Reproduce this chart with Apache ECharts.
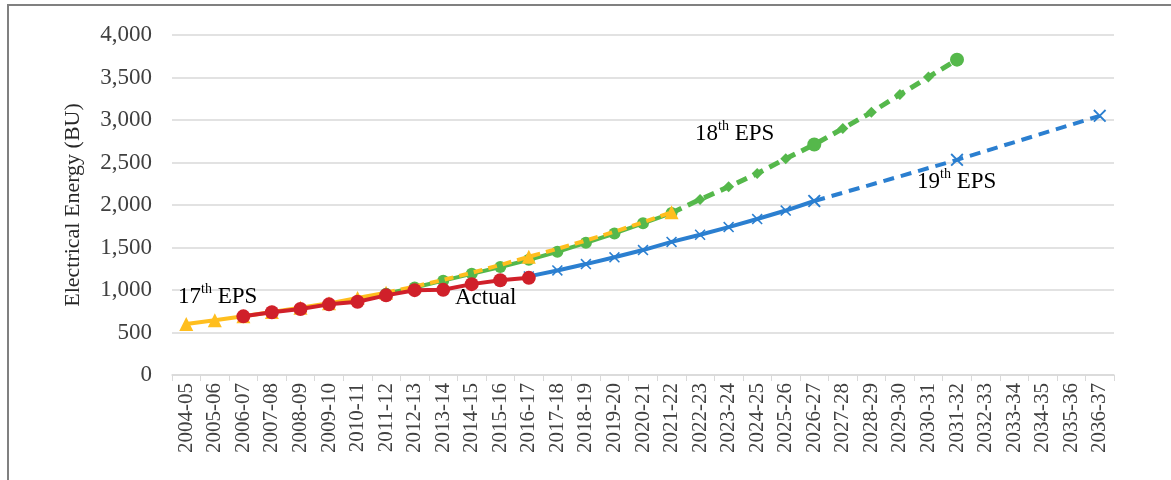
<!DOCTYPE html>
<html>
<head>
<meta charset="utf-8">
<script src="https://cdn.jsdelivr.net/npm/echarts@6/dist/echarts.min.js"></script>
<style>html,body{margin:0;padding:0;background:#fff}#c{width:1171px;height:480px}</style>
</head>
<body>
<div id="c"></div>
<script>
var categories = ['2004-05','2005-06','2006-07','2007-08','2008-09','2009-10','2010-11','2011-12','2012-13','2013-14','2014-15','2015-16','2016-17','2017-18','2018-19','2019-20','2020-21','2021-22','2022-23','2023-24','2024-25','2025-26','2026-27','2027-28','2028-29','2029-30','2030-31','2031-32','2032-33','2033-34','2034-35','2035-36','2036-37'];
var yTicks = [0, 500, 1000, 1500, 2000, 2500, 3000, 3500, 4000];
var _ = null;
var eps17Solid = [600,645,690,742,790,843,905,969,_,_,_,_,_,_,_,_,_,_,_,_,_,_,_,_,_,_,_,_,_,_,_,_,_];
var eps17Dash  = [_,_,_,_,_,_,_,969,1041,1119,1203,1294,1392,1484,1582,1686,1797,1914,_,_,_,_,_,_,_,_,_,_,_,_,_,_,_];
var eps17DashMarkers = ['2016-17','2021-22'];
var eps18Solid = [_,_,_,_,_,_,_,955,1030,1110,1190,1270,1355,1450,1555,1665,1785,1905,_,_,_,_,_,_,_,_,_,_,_,_,_,_,_];
var eps18Dash  = [_,_,_,_,_,_,_,_,_,_,_,_,_,_,_,_,_,1905,2065,2215,2370,2545,2711,2900,3090,3300,3505,3710,_,_,_,_,_];
var eps18BigMarkers = ['2026-27','2031-32'];
var eps19Solid = [_,_,_,_,_,_,_,_,_,_,_,_,1160,1230,1305,1385,1470,1566,1650,1740,1835,1935,2047,_,_,_,_,_,_,_,_,_,_];
var eps19Dash  = [_,_,_,_,_,_,_,_,_,_,_,_,_,_,_,_,_,_,_,_,_,_,2047,_,_,_,_,2531,_,_,_,_,3049];
var actual     = [_,_,690,739,777,831,862,937,998,1002,1069,1114,1143,_,_,_,_,_,_,_,_,_,_,_,_,_,_,_,_,_,_,_,_];

var C_Y = '#FFBE1E', C_R = '#D0202A', C_G = '#55B84B', C_B = '#2B7FD0';
var XPATH = 'path://M1,0L5,4L9,0L10,1L6,5L10,9L9,10L5,6L1,10L0,9L4,5L0,1Z';
var SERIF = 'Liberation Serif';

var chart = echarts.init(document.getElementById('c'));
function dashData(vals, shown, sym, size) {
  return vals.map(function (v, i) {
    if (v === null) return null;
    var show = shown.indexOf(categories[i]) >= 0;
    return {value: v, symbol: show ? sym : 'none', symbolSize: show ? size : 0};
  });
}
var eps18DashData = eps18Dash.map(function (v, i) {
  if (v === null) return null;
  var big = eps18BigMarkers.indexOf(categories[i]) >= 0;
  return {value: v, symbol: big ? 'circle' : 'diamond', symbolSize: big ? 14 : 11};
});

var rich = {
  n: {fontFamily: SERIF, fontSize: 23, color: '#262626', lineHeight: 26, verticalAlign: 'bottom'},
  s: {fontFamily: SERIF, fontSize: 14, color: '#262626', lineHeight: 26, verticalAlign: 'top'}
};
function label(x, y, txt) {
  return {type: 'text', left: x, top: y, z: 100, style: {text: txt, rich: rich}};
}

chart.setOption({
  animation: false,
  backgroundColor: '#fff',
  grid: {left: 172, right: 57, top: 35, bottom: 105, containLabel: false},
  xAxis: {
    type: 'category', data: categories, boundaryGap: true,
    axisLine: {lineStyle: {color: '#d9d9d9', width: 1.5}},
    axisTick: {show: true, alignWithLabel: false, length: 6, lineStyle: {color: '#d9d9d9'}},
    axisLabel: {interval: 0, rotate: 90, margin: 8, fontFamily: SERIF, fontSize: 21, color: '#404040'}
  },
  yAxis: {
    type: 'value', min: 0, max: 4000, interval: 500,
    name: 'Electrical Energy (BU)', nameLocation: 'middle', nameGap: 88,
    nameTextStyle: {fontFamily: SERIF, fontSize: 22, color: '#262626'},
    axisLine: {show: false}, axisTick: {show: false},
    splitLine: {lineStyle: {color: '#d9d9d9', width: 1.5}},
    axisLabel: {margin: 20, fontFamily: SERIF, fontSize: 23, color: '#404040',
      formatter: function (v) { return yTicks.indexOf(v) >= 0 ? v.toLocaleString('en-US') : ''; }}
  },
  graphic: [
    {type: 'rect', shape: {x: 8, y: 5, width: 1250, height: 560}, style: {fill: 'none', stroke: '#808080', lineWidth: 2}, z: 100},
    label(178, 282, '{n|17}{s|th}{n| EPS}'),
    label(455, 286, '{n|Actual}'),
    label(695, 119, '{n|18}{s|th}{n| EPS}'),
    label(917, 167, '{n|19}{s|th}{n| EPS}')
  ],
  series: [
    {type: 'line', data: eps17Solid, symbol: 'triangle', symbolSize: 14, showAllSymbol: true,
      lineStyle: {color: C_Y, width: 4}, itemStyle: {color: C_Y}, z: 2},
    {type: 'line', data: dashData(eps17Dash, eps17DashMarkers, 'triangle', 14), showAllSymbol: true,
      lineStyle: {color: C_Y, width: 4, type: [9, 6]}, itemStyle: {color: C_Y}, z: 3},
    {type: 'line', data: eps18Solid, symbol: 'circle', symbolSize: 12, showAllSymbol: true,
      lineStyle: {color: C_G, width: 4}, itemStyle: {color: C_G}, z: 2},
    {type: 'line', data: eps18DashData, showAllSymbol: true,
      lineStyle: {color: C_G, width: 5, type: [11, 7]}, itemStyle: {color: C_G}, z: 2},
    {type: 'line', data: eps19Solid, symbol: XPATH, symbolSize: 11, showAllSymbol: true,
      lineStyle: {color: C_B, width: 4}, itemStyle: {color: C_B}, z: 4},
    {type: 'line', data: eps19Dash, symbol: XPATH, symbolSize: 13, connectNulls: true, showAllSymbol: true,
      lineStyle: {color: C_B, width: 4, type: [11, 7]}, itemStyle: {color: C_B}, z: 4},
    {type: 'line', data: actual, symbol: 'circle', symbolSize: 14, showAllSymbol: true,
      lineStyle: {color: C_R, width: 4}, itemStyle: {color: C_R}, z: 5}
  ]
});
</script>
</body>
</html>
